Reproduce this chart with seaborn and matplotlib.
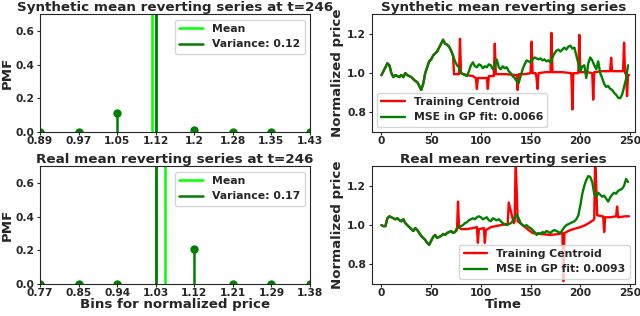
import numpy as np
import matplotlib
matplotlib.use("Agg")
import matplotlib.pyplot as plt
import seaborn as sns

# ---- PMF panels (left) ----
bin_idx = list(range(8))
syn_bins = ["0.89", "0.97", "1.05", "1.12", "1.2", "1.28", "1.35", "1.43"]
real_bins = ["0.77", "0.85", "0.94", "1.03", "1.12", "1.21", "1.29", "1.38"]
syn_pmf = [0.0, 0.0, 0.115, 0.87, 0.015, 0.0, 0.0, 0.0]
real_pmf = [0.0, 0.0, 0.0, 0.79, 0.21, 0.0, 0.0, 0.0]
syn_mean, syn_var_pos = 2.91, 3.0
real_mean, real_var_pos = 3.23, 3.02
syn_var_label = "Variance: 0.12"
real_var_label = "Variance: 0.17"

# ---- time series panels (right), GP fit sampled every 2 steps ----
t_fit = list(range(0, 250, 2))
syn_fit = [
    0.99, 1.01, 1.03, 1.05, 1.04, 1.00, 0.98, 0.99, 0.985, 0.98,
    0.99, 0.98, 1.00, 0.99, 0.985, 0.98, 0.97, 0.96, 0.955, 0.935,
    0.915, 0.945, 1.00, 1.03, 1.06, 1.07, 1.09, 1.10, 1.11, 1.13,
    1.15, 1.17, 1.15, 1.145, 1.135, 1.115, 1.09, 1.06, 1.04, 1.03,
    1.00, 0.995, 0.99, 0.985, 1.01, 1.04, 1.055, 1.035, 1.03, 1.045,
    1.04, 1.025, 1.035, 1.03, 1.045, 1.04, 1.02, 1.035, 1.07, 1.03,
    1.02, 1.035, 1.025, 1.03, 1.01, 1.00, 0.985, 0.975, 0.96, 0.95,
    0.985, 1.02, 1.045, 1.065, 1.06, 1.055, 1.07, 1.08, 1.075, 1.07,
    1.075, 1.065, 1.07, 1.06, 1.065, 1.055, 1.08, 1.10, 1.115, 1.12,
    1.11, 1.12, 1.13, 1.12, 1.135, 1.14, 1.125, 1.13, 1.09, 1.05,
    1.01, 1.035, 1.04, 0.975, 1.05, 1.08, 1.065, 1.04, 1.02, 1.06,
    1.00, 0.975, 0.945, 0.93, 0.935, 0.92, 0.915, 0.90, 0.89, 0.875,
    0.872, 0.89, 0.93, 0.97, 1.04,
]
real_fit = [
    1.00, 0.995, 0.995, 1.035, 1.045, 1.04, 1.035, 1.03, 1.035, 1.025,
    1.02, 1.03, 1.01, 1.00, 0.99, 0.98, 0.97, 0.985, 0.975, 0.96,
    0.945, 0.935, 0.925, 0.91, 0.90, 0.92, 0.94, 0.95, 0.935, 0.94,
    0.945, 0.955, 0.95, 0.96, 0.965, 0.97, 0.96, 0.965, 0.985, 0.99,
    0.995, 1.00, 1.01, 1.015, 1.025, 1.03, 1.035, 1.03, 1.04, 1.045,
    1.04, 1.03, 1.035, 1.04, 1.025, 1.02, 1.035, 1.03, 1.025, 1.03,
    1.02, 1.01, 1.005, 1.00, 1.005, 1.01, 1.02, 1.035, 1.055, 1.035,
    1.01, 1.00, 0.995, 1.00, 0.99, 0.985, 0.975, 0.965, 0.95, 0.96,
    0.955, 0.965, 0.96, 0.97, 0.965, 0.96, 0.97, 0.975, 0.97, 0.965,
    0.96, 0.975, 0.99, 1.00, 1.005, 1.01, 1.015, 1.02, 1.03, 1.05,
    1.10, 1.16, 1.20, 1.23, 1.25, 1.245, 1.22, 1.16, 1.145, 1.165,
    1.155, 1.145, 1.15, 1.135, 1.12, 1.14, 1.155, 1.165, 1.16, 1.175,
    1.18, 1.185, 1.20, 1.235, 1.22,
]

# training centroid: same as the fit early on, then its own points
syn_cen_t = t_fit[:37] + [
    73, 78, 79, 80, 86, 92, 95, 96, 97, 106, 107, 108, 113, 114, 115,
    125, 136, 137, 138, 145, 150, 151, 152, 155, 156, 157, 158, 165, 170,
    171, 172, 182, 191, 192, 193, 198, 199, 200, 207, 212, 213, 214, 222,
    230, 231, 232, 238, 243, 244, 245, 246, 247, 248, 249,
]
syn_cen_v = syn_fit[:37] + [
    0.995, 0.995, 1.175, 1.0, 0.99, 0.985, 0.975, 0.92, 0.975, 0.975, 0.92, 0.985, 0.985, 1.15, 0.995,
    0.995, 0.99, 0.915, 0.995, 0.995, 1.0, 1.16, 1.0, 1.0, 0.975, 0.92, 1.0, 1.005, 1.005,
    1.205, 1.005, 1.005, 1.0, 0.815, 1.0, 1.0, 1.195, 1.005, 1.005, 1.0, 0.865, 1.005, 1.01,
    1.01, 1.078, 1.01, 1.01, 1.01, 1.155, 1.0, 1.0, 0.883, 0.99, 0.99,
]
real_cen_t = t_fit[:38] + [
    75, 76, 77, 78, 80, 86, 92, 96, 97, 98, 103, 104, 105, 110, 120, 126,
    127, 128, 133, 134, 135, 137, 142, 148, 152, 160, 170, 178, 182, 183,
    184, 190, 200, 205, 210, 213, 214, 215, 217, 222, 223, 224, 225, 230,
    236, 237, 238, 245, 249,
]
real_cen_v = real_fit[:38] + [
    0.97, 0.975, 1.12, 0.99, 0.98, 0.98, 0.985, 0.99, 0.91, 0.98, 0.985, 0.91, 0.975, 0.99, 1.0, 1.005,
    1.005, 1.115, 1.01, 1.02, 1.34, 1.02, 1.0, 0.975, 0.96, 0.955, 0.95, 0.955, 0.96, 0.715,
    0.96, 0.975, 0.99, 1.0, 1.015, 1.025, 1.03, 1.36, 1.05, 1.045, 1.045, 0.965, 1.04, 1.04,
    1.045, 1.095, 1.04, 1.045, 1.045,
]
syn_mse_label = "MSE in GP fit: 0.0066"
real_mse_label = "MSE in GP fit: 0.0093"

sns.set_style("ticks")
plt.rcParams["font.family"] = ["DejaVu Sans"]
plt.rcParams["font.weight"] = "bold"
plt.rcParams["axes.labelweight"] = "bold"
plt.rcParams["axes.titleweight"] = "bold"
plt.rcParams["xtick.labelsize"] = 7.7
plt.rcParams["ytick.labelsize"] = 7.7
plt.rcParams["xtick.major.size"] = 2
plt.rcParams["ytick.major.size"] = 2
plt.rcParams["xtick.major.pad"] = 1
plt.rcParams["ytick.major.pad"] = 2
plt.rcParams["axes.labelsize"] = 9.6
plt.rcParams["axes.titlesize"] = 9.7
plt.rcParams["legend.fontsize"] = 7.8

fig = plt.figure(figsize=(6.4, 3.16), dpi=100)
ax_tl = fig.add_axes([40 / 640, 0.582, 270 / 640, 0.373])
ax_bl = fig.add_axes([40 / 640, 0.101, 270 / 640, 0.373])
ax_tr = fig.add_axes([371.5 / 640, 0.582, 263.5 / 640, 0.373])
ax_br = fig.add_axes([371.5 / 640, 0.101, 263.5 / 640, 0.373])


def pmf_panel(ax, pmf, labels, mean_pos, var_pos, var_label, title):
    mk, st, bl = ax.stem(bin_idx, pmf, linefmt="green", markerfmt="o", basefmt=" ")
    plt.setp(mk, color="green", markersize=5)
    plt.setp(st, linewidth=1.8)
    ax.axvline(mean_pos, color="lime", lw=1.8, label="Mean")
    ax.axvline(var_pos, color="green", lw=1.8, label=var_label)
    ax.set_xlim(0, 7)
    ax.set_ylim(0, 0.7)
    ax.set_xticks(bin_idx)
    ax.set_xticklabels(labels)
    ax.set_yticks([0.0, 0.2, 0.4, 0.6])
    ax.set_ylabel("PMF", labelpad=1)
    ax.set_title(title, pad=2.5)
    ax.legend(loc="upper right", handlelength=2.2)
    for s in ax.spines.values():
        s.set_visible(True)


def series_panel(ax, ct, cv, fv, mse_label, title, loc):
    sns.lineplot(x=ct, y=cv, color="red", lw=1.7, label="Training Centroid", ax=ax)
    sns.lineplot(x=t_fit, y=fv, color="green", lw=1.7, label=mse_label, ax=ax)
    ax.set_xlim(-10, 255)
    ax.set_ylim(0.7, 1.3)
    ax.set_xticks([0, 50, 100, 150, 200, 250])
    ax.set_yticks([0.8, 1.0, 1.2])
    ax.set_ylabel("Normalized price", labelpad=2)
    ax.set_title(title, pad=2.5)
    ax.legend(loc=loc, handlelength=2.2)
    for s in ax.spines.values():
        s.set_visible(True)


pmf_panel(ax_tl, syn_pmf, syn_bins, syn_mean, syn_var_pos, syn_var_label,
          "Synthetic mean reverting series at t=246")
pmf_panel(ax_bl, real_pmf, real_bins, real_mean, real_var_pos, real_var_label,
          "Real mean reverting series at t=246")
ax_bl.set_xlabel("Bins for normalized price", labelpad=0)

series_panel(ax_tr, syn_cen_t, syn_cen_v, syn_fit, syn_mse_label,
             "Synthetic mean reverting series", "lower left")
series_panel(ax_br, real_cen_t, real_cen_v, real_fit, real_mse_label,
             "Real mean reverting series", "lower right")
ax_br.set_xlabel("Time", labelpad=0)

fig.savefig("out.png", dpi=100)
